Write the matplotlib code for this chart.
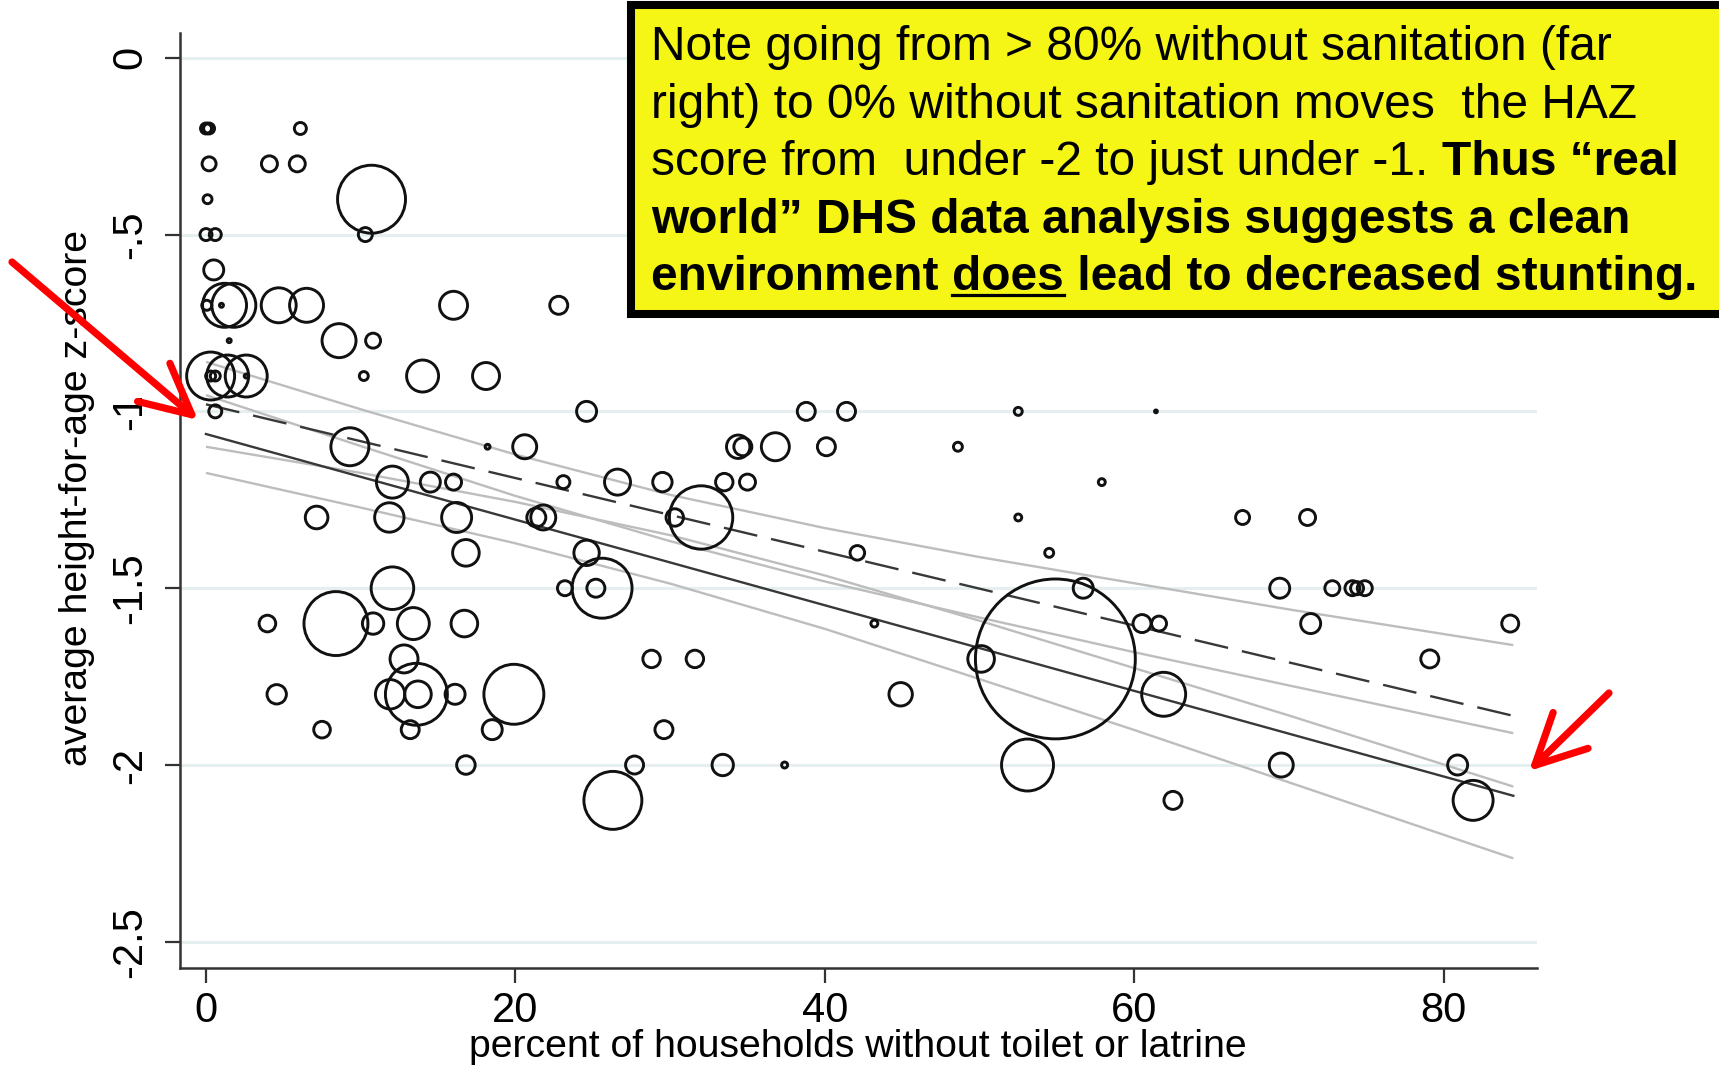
import matplotlib
matplotlib.use("Agg")
import matplotlib.pyplot as plt
from matplotlib import font_manager
from matplotlib.patches import Rectangle, FancyArrowPatch
from matplotlib.lines import Line2D

# ---------------------------------------------------------------
# Country-level DHS survey points
# ---------------------------------------------------------------
pct_no_toilet = [
    0.0, 0.2, 0.1, 6.1,
    0.2, 4.1, 5.9,
    0.1, 10.7,
    0.0, 0.6, 10.3,
    0.5,
    0.05, 1.0, 1.2, 1.8, 4.7, 6.5, 16.0, 22.8,
    1.5, 8.6, 10.8,
    0.3, 1.4, 2.6, 0.3, 0.6, 2.6, 10.2, 14.0, 18.1,
    0.6, 24.6, 38.8, 41.4, 52.5, 61.4,
    9.3, 18.2, 20.6, 34.4, 34.7, 36.8, 40.1, 48.6,
    12.05, 14.5, 16.0, 23.1, 26.6, 29.5, 33.5, 35.0, 57.9,
    7.15, 11.85, 16.2, 21.35, 21.8, 30.3, 32.0, 52.5, 67.0, 71.2,
    16.8, 24.6, 42.1, 54.5,
    12.05, 23.2, 25.2, 25.6, 56.7, 69.4, 72.8, 74.1, 74.4, 74.9,
    3.97, 8.4, 10.8, 13.4, 16.7, 43.2, 60.5, 61.6, 71.4, 84.3,
    12.8, 28.8, 31.6, 50.1, 54.9, 79.1,
    4.57, 11.9, 13.6, 13.7, 16.1, 19.9, 44.9, 61.9,
    7.5, 13.2, 18.5, 29.6,
    16.8, 27.7, 33.4, 37.4, 53.1, 69.5, 80.9,
    26.3, 62.5, 81.9,
]
mean_haz = [
    -0.2, -0.2, -0.2, -0.2,
    -0.3, -0.3, -0.3,
    -0.4, -0.4,
    -0.5, -0.5, -0.5,
    -0.6,
    -0.7, -0.7, -0.7, -0.7, -0.7, -0.7, -0.7, -0.7,
    -0.8, -0.8, -0.8,
    -0.9, -0.9, -0.9, -0.9, -0.9, -0.9, -0.9, -0.9, -0.9,
    -1.0, -1.0, -1.0, -1.0, -1.0, -1.0,
    -1.1, -1.1, -1.1, -1.1, -1.1, -1.1, -1.1, -1.1,
    -1.2, -1.2, -1.2, -1.2, -1.2, -1.2, -1.2, -1.2, -1.2,
    -1.3, -1.3, -1.3, -1.3, -1.3, -1.3, -1.3, -1.3, -1.3, -1.3,
    -1.4, -1.4, -1.4, -1.4,
    -1.5, -1.5, -1.5, -1.5, -1.5, -1.5, -1.5, -1.5, -1.5, -1.5,
    -1.6, -1.6, -1.6, -1.6, -1.6, -1.6, -1.6, -1.6, -1.6, -1.6,
    -1.7, -1.7, -1.7, -1.7, -1.7, -1.7,
    -1.8, -1.8, -1.8, -1.8, -1.8, -1.8, -1.8, -1.8,
    -1.9, -1.9, -1.9, -1.9,
    -2.0, -2.0, -2.0, -2.0, -2.0, -2.0, -2.0,
    -2.1, -2.1, -2.1,
]
# survey weight (children measured, arbitrary units) -> bubble area
survey_weight = [
    30, 30, 20, 36,
    49, 64, 64,
    20, 1156,
    36, 36, 49,
    100,
    25, 4, 484, 484, 306, 289, 196, 81,
    4, 289, 56,
    576, 441, 441, 25, 25, 4, 20, 256, 182,
    42, 100, 81, 81, 16, 2,
    361, 6, 144, 137, 81, 196, 81, 20,
    256, 100, 64, 42, 169, 94, 76, 64, 12,
    128, 216, 225, 90, 156, 76, 1005, 12, 49, 64,
    177, 161, 53, 20,
    454, 56, 81, 900, 100, 100, 56, 56, 42, 56,
    69, 1024, 114, 256, 177, 12, 81, 56, 100, 72,
    196, 76, 76, 177, 6400, 81,
    94, 216, 961, 177, 100, 900, 137, 484,
    69, 81, 100, 81,
    86, 81, 114, 9, 676, 144, 100,
    841, 81, 400,
]

# fitted regression lines (end points)
fit_x = [0.0, 84.5]
fit_weighted = [-1.064, -2.087]
fit_unweighted = [-0.980, -1.861]

# 95% confidence bands
band_x = [0, 10, 20, 30, 40, 50, 60, 70, 84.5]
unw_upper = [-0.860, -0.994, -1.122, -1.236, -1.330, -1.412, -1.486, -1.560, -1.661]
unw_lower = [-1.100, -1.174, -1.256, -1.350, -1.464, -1.592, -1.726, -1.860, -2.061]
wtd_upper = [-0.954, -1.098, -1.239, -1.367, -1.481, -1.583, -1.681, -1.775, -1.910]
wtd_lower = [-1.174, -1.272, -1.373, -1.487, -1.615, -1.757, -1.901, -2.049, -2.264]

x_ticks = [0, 20, 40, 60, 80]
y_ticks = [0, -0.5, -1, -1.5, -2, -2.5]
y_tick_labels = ["0", "-.5", "-1", "-1.5", "-2", "-2.5"]

# ---------------------------------------------------------------
W, H, DPI = 1719, 1073, 100
installed = {f.name for f in font_manager.fontManager.ttflist}
narrow = "Liberation Sans Narrow" if "Liberation Sans Narrow" in installed else "Liberation Sans"
plain = "Liberation Sans" if "Liberation Sans" in installed else "DejaVu Sans"
label_size = 30 if narrow.endswith("Narrow") else 28.3

fig = plt.figure(figsize=(W / DPI, H / DPI), dpi=DPI)
fig.patch.set_facecolor("white")

ax_left, ax_right, ax_top, ax_bottom = 180, 1537, 33, 968
ax = fig.add_axes([ax_left / W, 1 - ax_bottom / H,
                   (ax_right - ax_left) / W, (ax_bottom - ax_top) / H])
ax.set_xlim(-1.68, 86.03)
ax.set_ylim(-2.574, 0.070)

for s in ("top", "right"):
    ax.spines[s].set_visible(False)
for s in ("left", "bottom"):
    ax.spines[s].set_color("#333333")
    ax.spines[s].set_linewidth(1.8)

ax.set_xticks(x_ticks)
ax.set_xticklabels([str(v) for v in x_ticks], fontfamily=narrow, fontsize=30)
ax.set_yticks(y_ticks)
ax.set_yticklabels(y_tick_labels, fontfamily=narrow, fontsize=30,
                   rotation=90, va="center")
ax.tick_params(axis="both", direction="out", length=10.5, width=1.6,
               color="#333333", labelcolor="black")
ax.tick_params(axis="y", pad=11)
ax.tick_params(axis="x", pad=6)

for yv in y_ticks:
    ax.axhline(yv, color="#E6EFF0", lw=2.2, zorder=0)

# confidence bands
for band in (unw_upper, unw_lower, wtd_upper, wtd_lower):
    ax.plot(band_x, band, color="#BDBDBD", lw=1.7, zorder=1,
            solid_capstyle="butt")

# fitted lines
ax.plot(fit_x, fit_weighted, color="#383838", lw=1.7, zorder=2)
ax.plot(fit_x, fit_unweighted, color="#383838", lw=1.7, zorder=2,
        dashes=(14.5, 6.0))

# bubbles: area proportional to survey weight
marker_area = [w * 2.07 for w in survey_weight]
ax.scatter(pct_no_toilet, mean_haz, s=marker_area, facecolors="none",
           edgecolors="#111111", linewidths=2.1, zorder=3, clip_on=False)

fig.text(858 / W, 1 - 1047 / H, "percent of households without toilet or latrine",
         fontfamily=narrow, fontsize=label_size, ha="center", va="center")
fig.text(77 / W, 1 - 498 / H, "average height-for-age z-score",
         fontfamily=narrow, fontsize=label_size, ha="center", va="center",
         rotation=90)

# ---------------------------------------------------------------
# annotation box
box = Rectangle((631 / W, 1 - 314 / H), (1740 - 631) / W, (314 - 5.5) / H,
                transform=fig.transFigure, facecolor="#F5F516",
                edgecolor="black", linewidth=5.8, zorder=10)
fig.add_artist(box)

renderer = fig.canvas.get_renderer()
lines = [
    [("Note going from > 80% without sanitation (far", "normal", False)],
    [("right) to 0% without sanitation moves  the HAZ", "normal", False)],
    [("score from  under -2 to just under -1. ", "normal", False),
     ("Thus \u201creal", "bold", False)],
    [("world\u201d DHS data analysis suggests a clean", "bold", False)],
    [("environment ", "bold", False), ("does", "bold", True),
     (" lead to decreased stunting.", "bold", False)],
]
x0 = 651
baseline0 = 60
line_gap = 57.6
for i, runs in enumerate(lines):
    x = x0
    yb = baseline0 + i * line_gap
    for txt, weight, underline in runs:
        t = fig.text(x / W, 1 - yb / H, txt, fontfamily=plain, fontsize=34.5,
                     fontweight=weight, ha="left", va="baseline", zorder=11)
        bb = t.get_window_extent(renderer)
        if underline:
            fig.add_artist(Line2D([x / W, (x + bb.width) / W],
                                  [1 - (yb + 5) / H, 1 - (yb + 5) / H],
                                  transform=fig.transFigure, color="black",
                                  lw=2.3, zorder=11))
        x += bb.width

# red pointer arrows
for (xa, ya), (xb, yb) in [((12, 262), (198, 420)), ((1609, 693), (1529, 771))]:
    arr = FancyArrowPatch((xa / W, 1 - ya / H), (xb / W, 1 - yb / H),
                          transform=fig.transFigure,
                          arrowstyle="->,head_length=1.8,head_width=0.9",
                          mutation_scale=20, lw=5.2, color="#FF0000",
                          shrinkA=0, shrinkB=0, zorder=12)
    fig.add_artist(arr)

fig.savefig("out.png", dpi=DPI)
